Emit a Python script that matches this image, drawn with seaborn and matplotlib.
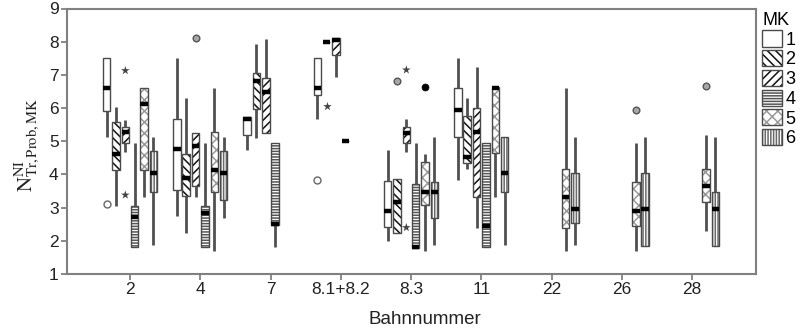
import numpy as np
import pandas as pd
import matplotlib
matplotlib.use("Agg")
import matplotlib.pyplot as plt
import matplotlib.colors as mcolors
import seaborn as sns
from matplotlib.patches import Patch

# ---------------- data ----------------
categories = ["2", "4", "7", "8.1+8.2", "8.3", "11", "22", "26", "28"]
mk_levels = ["1", "2", "3", "4", "5", "6"]

box_bahn = ["2"] * 6 + ["4"] * 6 + ["7"] * 4 + ["8.1+8.2"] * 4 + ["8.3"] * 6 + ["11"] * 6 \
    + ["22"] * 2 + ["26"] * 2 + ["28"] * 2
box_mk = mk_levels * 2 + ["1", "2", "3", "4"] * 2 + mk_levels * 2 + ["5", "6"] * 3
box_lo = [5.14, 3.05, 4.69, 1.80, 3.33, 1.87,
          2.75, 2.23, 3.33, 1.80, 1.70, 2.68,
          4.74, 5.09, 5.24, 1.80,
          5.67, 8.00, 6.95, 5.00,
          2.00, 2.23, 4.69, 1.78, 1.70, 1.87,
          3.83, 4.15, 2.40, 1.80, 3.33, 1.87,
          1.70, 1.87,
          1.70, 1.85,
          2.31, 1.85]
box_q1 = [5.92, 4.13, 4.96, 1.80, 4.13, 3.48,
          3.53, 3.35, 3.66, 1.80, 3.48, 3.23,
          5.19, 5.98, 5.24, 2.48,
          6.39, 8.00, 7.60, 5.00,
          2.43, 2.23, 4.96, 1.78, 3.08, 2.68,
          5.14, 4.34, 3.33, 1.80, 4.64, 3.48,
          2.38, 2.55,
          2.45, 1.85,
          3.18, 1.85]
box_med = [6.60, 4.62, 5.29, 2.71, 6.12, 4.05,
           4.76, 3.88, 4.87, 2.83, 4.13, 4.05,
           5.67, 6.82, 6.49, 2.52,
           6.60, 8.00, 8.05, 5.00,
           2.90, 3.18, 5.26, 1.82, 3.48, 3.48,
           5.94, 4.53, 5.27, 2.45, 6.59, 4.05,
           3.31, 2.95,
           2.91, 2.95,
           3.65, 2.95]
box_q3 = [7.52, 5.57, 5.44, 3.05, 6.59, 4.72,
          5.67, 4.62, 5.26, 3.06, 5.29, 4.72,
          5.72, 7.07, 6.90, 4.96,
          7.52, 8.00, 8.10, 5.00,
          3.81, 3.86, 5.44, 3.71, 4.38, 3.78,
          6.59, 5.76, 6.01, 4.96, 6.63, 5.14,
          4.15, 4.05,
          3.78, 4.05,
          4.15, 3.48]
box_hi = [7.52, 6.02, 5.64, 4.96, 6.59, 5.12,
          7.50, 6.31, 5.26, 4.96, 6.59, 5.12,
          5.72, 7.93, 8.07, 4.96,
          7.52, 8.00, 8.10, 5.00,
          4.74, 3.86, 5.66, 4.96, 4.62, 5.12,
          7.50, 6.29, 7.25, 4.96, 6.63, 5.14,
          6.59, 5.12,
          4.96, 5.12,
          5.19, 5.12]

out_bahn = ["2", "2", "2", "4", "8.1+8.2", "8.1+8.2", "8.3", "8.3", "8.3", "8.3", "26", "28"]
out_mk = ["1", "3", "3", "3", "1", "2", "2", "3", "3", "5", "5", "5"]
out_val = [3.10, 7.13, 3.38, 8.12, 3.83, 6.05, 6.82, 7.15, 2.40, 6.62, 5.93, 6.65]
out_kind = ["open", "star", "star", "gray", "open", "star", "gray", "star", "star", "black", "gray", "gray"]

# ---------------- build long tables ----------------
rows = []
for b, m, lo, q1, md, q3, hi in zip(box_bahn, box_mk, box_lo, box_q1, box_med, box_q3, box_hi):
    for v in (lo, q1, md, q3, hi):
        rows.append({"Bahn": b, "MK": m, "val": v})
df = pd.DataFrame(rows)
odf = pd.DataFrame({"Bahn": out_bahn, "MK": out_mk, "val": out_val, "kind": out_kind})

# ---------------- styling ----------------
plt.rcParams["font.family"] = ["Liberation Sans", "DejaVu Sans"]
plt.rcParams["mathtext.fontset"] = "stix"
plt.rcParams["hatch.linewidth"] = 1.1

hatches = ["", "\\\\\\\\", "////", "------", "xxx", "||||||"]
hatch_cols = ["#333333", "#111111", "#111111", "#555555", "#999999", "#6a6a6a"]
edge = "#4a4a4a"

fig = plt.figure(figsize=(8.02, 3.35), dpi=100)
ax = fig.add_axes([67 / 802, 1 - 274 / 335, 689 / 802, 265.5 / 335])

white = {m: "white" for m in mk_levels}
for i, mk in enumerate(mk_levels):
    sub = df[df["MK"] == mk]
    n0 = len(ax.patches)
    sns.boxplot(data=sub, x="Bahn", y="val", hue="MK", order=categories,
                hue_order=mk_levels, dodge=True, width=0.8, gap=0.2,
                whis=(0, 100), palette=white, saturation=1,
                linecolor=edge, linewidth=1.0, showcaps=False,
                medianprops=dict(color="black", linewidth=3.2, solid_capstyle="butt"),
                whiskerprops=dict(color="#505050", linewidth=2.0),
                legend=False, ax=ax)
    for p in ax.patches[n0:]:
        p.set_hatch(hatches[i])
        if hasattr(p, "set_hatchcolor"):
            p.set_hatchcolor(hatch_cols[i])
        else:
            p._hatch_color = mcolors.to_rgba(hatch_cols[i])

styles = {
    "open": dict(marker="o", fc="white", ec="#666666", size=5, lw=1.0),
    "gray": dict(marker="o", fc="#a8a8a8", ec="#555555", size=4.8, lw=1.0),
    "black": dict(marker="o", fc="black", ec="black", size=5, lw=0.5),
    "star": dict(marker="*", fc="#444444", ec="#444444", size=6.5, lw=0),
}
for kind, st in styles.items():
    sub = odf[odf["kind"] == kind]
    sns.stripplot(data=sub, x="Bahn", y="val", hue="MK", order=categories,
                  hue_order=mk_levels, dodge=True, jitter=False,
                  palette={m: st["fc"] for m in mk_levels}, marker=st["marker"],
                  size=st["size"], edgecolor=st["ec"], linewidth=st["lw"],
                  legend=False, ax=ax, zorder=5)

ax.set_xlim(-0.897, 8.911)
ax.set_ylim(1, 9)
ax.set_yticks(range(1, 10))
ax.set_xticks(range(len(categories)))
ax.set_xticklabels(categories)
ax.tick_params(axis="both", labelsize=12.5, color="#777777", width=1.2,
               length=4, labelcolor="#222222", pad=2)
for s in ax.spines.values():
    s.set_color("#808080")
    s.set_linewidth(1.5)
ax.set_xlabel("")
ax.set_ylabel("")

fig.text(425 / 802, 1 - 320 / 335, "Bahnnummer", ha="center", va="center",
         fontsize=13.5, color="#222222")
fig.text(27 / 802, 1 - 145 / 335, r"$\mathrm{N}^{\mathrm{NI}}_{\mathrm{Tr,Prob,MK}}$",
         rotation=90, ha="center", va="center", fontsize=15, color="#222222")

handles = []
for i, mk in enumerate(mk_levels):
    h = Patch(facecolor="white", edgecolor=edge, hatch=hatches[i], linewidth=1.0, label=mk)
    if hasattr(h, "set_hatchcolor"):
        h.set_hatchcolor(hatch_cols[i])
    else:
        h._hatch_color = mcolors.to_rgba(hatch_cols[i])
    handles.append(h)
leg = fig.legend(handles=handles, title="MK", loc="upper left",
                 bbox_to_anchor=(762 / 802, 1 - 12 / 335), frameon=False,
                 fontsize=13, title_fontsize=13, handlelength=1.1,
                 handleheight=1.0, handletextpad=0.2, labelspacing=0.08,
                 borderpad=0, borderaxespad=0)
leg._legend_box.align = "left"

fig.savefig("out.png", dpi=100)
